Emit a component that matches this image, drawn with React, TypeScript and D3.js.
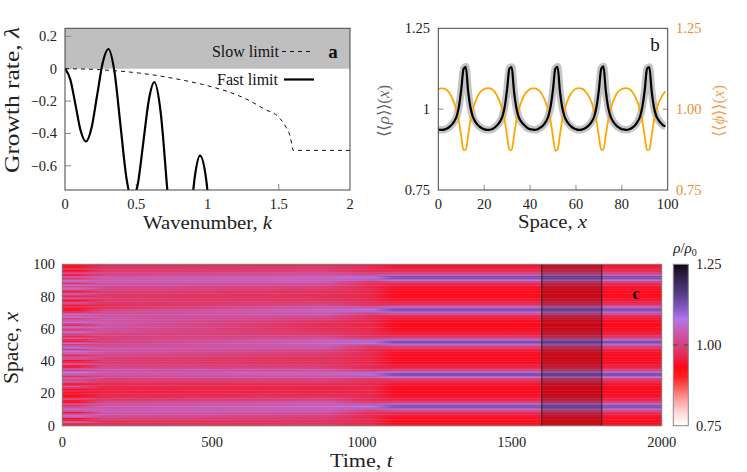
import React from 'react';
import * as d3 from 'd3';

// ---------- Panel a data ----------
const fastK = [0, 0.037, 0.074, 0.110, 0.147, 0.186, 0.2255, 0.265, 0.304, 0.3465, 0.389, 0.4315, 0.474, 0.512, 0.5505, 0.589, 0.627, 0.672, 0.7165, 0.761, 0.806, 0.841, 0.8765, 0.912, 0.947, 0.99, 1.03, 1.08];
const fastLambda = [0, -0.066, -0.225, -0.384, -0.45, -0.366, -0.164, 0.038, 0.122, -0.015, -0.347, -0.678, -0.815, -0.708, -0.449, -0.19, -0.083, -0.274, -0.734, -1.194, -1.385, -1.261, -0.962, -0.662, -0.538, -0.68, -1.05, -1.5];
const slowK = [0, 0.2, 0.4, 0.6, 0.8, 1.0, 1.2, 1.3, 1.4, 1.5, 1.55, 1.58, 1.59, 1.6, 2.0];
const slowLambda = [0, -0.004, -0.016, -0.036, -0.066, -0.105, -0.16, -0.2, -0.25, -0.3, -0.36, -0.42, -0.46, -0.505, -0.505];
const ticksKa = [0, 0.5, 1, 1.5, 2];
const ticksLa = [0.2, 0, -0.2, -0.4, -0.6];

// ---------- Panel b data (x = 0..99) ----------
const rhoMean = [
  0.937, 0.936, 0.936, 0.938, 0.941, 0.946, 0.953, 0.963, 0.978, 1.008,
  1.060, 1.124, 1.131, 1.056, 1.006, 0.978, 0.963, 0.953, 0.946, 0.941,
  0.938, 0.936, 0.936, 0.937, 0.940, 0.946, 0.953, 0.963, 0.979, 1.009,
  1.062, 1.126, 1.130, 1.055, 1.005, 0.977, 0.963, 0.954, 0.947, 0.941,
  0.938, 0.937, 0.936, 0.937, 0.941, 0.945, 0.952, 0.963, 0.979, 1.010,
  1.061, 1.125, 1.131, 1.057, 1.006, 0.978, 0.963, 0.953, 0.946, 0.941,
  0.938, 0.936, 0.936, 0.938, 0.941, 0.946, 0.953, 0.963, 0.978, 1.008,
  1.059, 1.124, 1.132, 1.058, 1.007, 0.979, 0.964, 0.954, 0.947, 0.942,
  0.938, 0.937, 0.936, 0.937, 0.940, 0.945, 0.952, 0.963, 0.978, 1.009,
  1.060, 1.125, 1.130, 1.056, 1.006, 0.979, 0.966, 0.957, 0.950, 0.947,
];
const phiMean = [
  1.062, 1.064, 1.064, 1.062, 1.057, 1.048, 1.035, 1.018, 0.995, 0.962,
  0.915, 0.873, 0.875, 0.918, 0.965, 0.998, 1.020, 1.037, 1.050, 1.058,
  1.062, 1.064, 1.065, 1.063, 1.058, 1.049, 1.036, 1.019, 0.996, 0.963,
  0.916, 0.874, 0.874, 0.917, 0.964, 0.997, 1.019, 1.036, 1.049, 1.057,
  1.062, 1.064, 1.064, 1.062, 1.057, 1.048, 1.035, 1.018, 0.994, 0.961,
  0.914, 0.872, 0.875, 0.919, 0.966, 0.998, 1.020, 1.037, 1.050, 1.058,
  1.063, 1.065, 1.064, 1.062, 1.056, 1.047, 1.034, 1.017, 0.994, 0.962,
  0.916, 0.874, 0.876, 0.918, 0.964, 0.997, 1.020, 1.037, 1.050, 1.058,
  1.062, 1.064, 1.065, 1.063, 1.058, 1.049, 1.036, 1.018, 0.995, 0.963,
  0.915, 0.873, 0.875, 0.917, 0.963, 0.996, 1.018, 1.034, 1.046, 1.055,
];
const ticksXb = [0, 20, 40, 60, 80, 100];
const ticksYbLeft = ['0.75', '1', '1.25'];
const ticksYbRight = ['0.75', '1.00', '1.25'];
const valsYb = [0.75, 1, 1.25];

// ---------- Panel c data (rows x = 0..99) ----------
const heatNoise = [
  0.94, 0.97, 1.05, 0.96, 0.93, 1.04, 1.07, 0.99, 0.95, 1.03,
  1.06, 1.02, 0.97, 1.04, 0.95, 0.93, 1.02, 0.96, 0.93, 0.95,
  0.92, 0.97, 0.94, 0.98, 1.03, 0.95, 0.96, 1.04, 0.99, 1.06,
  0.97, 1.03, 1.05, 1.08, 0.99, 1.02, 0.96, 0.95, 1.03, 0.97,
  0.94, 1.01, 1.04, 0.96, 1.02, 1.05, 1.07, 0.98, 1.09, 1.04,
  0.99, 1.05, 0.95, 0.97, 1.03, 0.96, 0.99, 1.04, 1.06, 0.98,
  1.03, 1.05, 0.97, 1.02, 1.06, 1.04, 0.99, 1.07, 1.03, 1.05,
  0.98, 0.95, 0.93, 0.97, 0.95, 0.99, 1.03, 0.94, 0.98, 1.02,
  0.96, 1.04, 0.99, 0.95, 1.03, 1.06, 1.01, 1.05, 0.97, 1.06,
  1.04, 0.98, 1.03, 0.95, 1.02, 0.96, 0.94, 0.98, 0.93, 0.95,
];
const heatEarly = [
  0.968, 0.970, 0.975, 0.985, 0.998, 1.012, 1.025, 1.033, 1.037, 1.040,
  1.040, 1.038, 1.034, 1.025, 1.012, 0.995, 0.982, 0.972, 0.966, 0.962,
  0.960, 0.958, 0.958, 0.960, 0.962, 0.966, 0.972, 0.980, 0.990, 1.002,
  1.015, 1.026, 1.032, 1.034, 1.032, 1.025, 1.012, 1.000, 0.992, 0.988,
  0.988, 0.992, 0.998, 1.006, 1.015, 1.024, 1.030, 1.032, 1.030, 1.022,
  1.012, 1.004, 0.998, 0.995, 0.995, 0.998, 1.003, 1.010, 1.017, 1.023,
  1.028, 1.032, 1.035, 1.036, 1.036, 1.035, 1.033, 1.032, 1.030, 1.026,
  1.018, 1.005, 0.990, 0.978, 0.972, 0.975, 0.982, 0.986, 0.988, 0.988,
  0.986, 0.985, 0.987, 0.992, 1.000, 1.010, 1.020, 1.030, 1.036, 1.040,
  1.040, 1.036, 1.028, 1.016, 1.004, 0.994, 0.986, 0.980, 0.976, 0.975,
];
const heatMid = [
  0.978, 0.977, 0.978, 0.981, 0.986, 0.993, 1.003, 1.015, 1.028, 1.040,
  1.048, 1.052, 1.052, 1.046, 1.034, 1.018, 1.002, 0.988, 0.976, 0.968,
  0.963, 0.961, 0.960, 0.961, 0.964, 0.969, 0.976, 0.986, 0.998, 1.015,
  1.032, 1.046, 1.048, 1.040, 1.026, 1.010, 0.996, 0.986, 0.980, 0.977,
  0.976, 0.976, 0.977, 0.980, 0.985, 0.993, 1.004, 1.018, 1.032, 1.043,
  1.049, 1.051, 1.048, 1.038, 1.022, 1.006, 0.993, 0.983, 0.977, 0.974,
  0.972, 0.971, 0.972, 0.974, 0.979, 0.987, 0.998, 1.012, 1.027, 1.040,
  1.047, 1.050, 1.047, 1.036, 1.020, 1.004, 0.991, 0.982, 0.977, 0.975,
  0.974, 0.974, 0.975, 0.978, 0.983, 0.991, 1.002, 1.016, 1.030, 1.042,
  1.049, 1.051, 1.047, 1.036, 1.020, 1.004, 0.992, 0.984, 0.980, 0.978,
];
const heatTrans = [
  0.964, 0.963, 0.962, 0.962, 0.963, 0.964, 0.966, 0.970, 0.977, 0.992,
  1.030, 1.088, 1.090, 1.032, 0.993, 0.978, 0.970, 0.966, 0.964, 0.963,
  0.963, 0.962, 0.962, 0.962, 0.963, 0.965, 0.967, 0.971, 0.978, 0.993,
  1.032, 1.090, 1.089, 1.030, 0.992, 0.977, 0.969, 0.965, 0.963, 0.962,
  0.962, 0.962, 0.961, 0.962, 0.963, 0.964, 0.966, 0.970, 0.977, 0.991,
  1.029, 1.087, 1.091, 1.033, 0.994, 0.978, 0.970, 0.966, 0.964, 0.963,
  0.963, 0.962, 0.962, 0.963, 0.963, 0.965, 0.967, 0.971, 0.978, 0.992,
  1.031, 1.089, 1.088, 1.030, 0.992, 0.977, 0.970, 0.966, 0.964, 0.963,
  0.963, 0.962, 0.962, 0.962, 0.963, 0.964, 0.966, 0.970, 0.977, 0.992,
  1.030, 1.090, 1.089, 1.031, 0.993, 0.978, 0.970, 0.966, 0.964, 0.964,
];
const heatStopTimes = [0, 50, 140, 880, 1035, 1110, 2000];
const heatProfiles = [heatNoise, heatNoise, heatEarly, heatMid, heatTrans, rhoMean, rhoMean];
const windowStart = 1600;
const windowEnd = 1800;
const ticksTc = [0, 500, 1000, 1500, 2000];
const ticksXc = [0, 20, 40, 60, 80, 100];
const cbarTicks = ['0.75', '1.00', '1.25'];
const cbarVals = [0.75, 1.0, 1.25];

// colormap
const cmapValues = [0.75, 0.79, 0.83, 0.87, 0.90, 0.93, 0.945, 0.96, 0.975, 0.99, 1.02, 1.05, 1.08, 1.11, 1.14, 1.18, 1.22, 1.25];
const cmapColors = ['#ffffff', '#ffd8d8', '#ffa0a0', '#ff5858', '#ff2020', '#ff0814', '#f81028', '#ea2448', '#e2305a', '#da3c72', '#d04c98', '#c660ba', '#b474f0', '#8a5cc8', '#6a48a0', '#46306e', '#2a1a3e', '#0c0810'];

const FONT = '"Liberation Serif", "Times New Roman", serif';
const TICK = '#888';
const FRAME = '#444';

export default function App() {
  // ---------- scales ----------
  const xa = d3.scaleLinear().domain([0, 2]).range([65, 350]);
  const ya = d3.scaleLinear().domain([-0.75, 0.25]).range([190, 28.3]);
  const xb = d3.scaleLinear().domain([0, 100]).range([438.3, 667.7]);
  const yb = d3.scaleLinear().domain([0.75, 1.25]).range([190, 28.3]);
  const xc = d3.scaleLinear().domain([0, 2000]).range([62.3, 661.7]);
  const yc = d3.scaleLinear().domain([0, 100]).range([425.7, 264.3]);
  const ycb = d3.scaleLinear().domain([0.75, 1.25]).range([425.7, 264.3]);
  const cmap = d3.scaleLinear<string>().domain(cmapValues).range(cmapColors).interpolate(d3.interpolateRgb).clamp(true);

  const fastLine = d3.line<number>().x((_, i) => xa(fastK[i])).y((d) => ya(d)).curve(d3.curveMonotoneX)(fastLambda) || '';
  const slowLine = d3.line<number>().x((_, i) => xa(slowK[i])).y((d) => ya(d)).curve(d3.curveMonotoneX)(slowLambda) || '';
  const rhoLine = d3.line<number>().x((_, i) => xb(i)).y((d) => yb(d)).curve(d3.curveMonotoneX)(rhoMean) || '';
  const phiLine = d3.line<number>().x((_, i) => xb(i)).y((d) => yb(d)).curve(d3.curveMonotoneX)(phiMean) || '';

  const rows = d3.range(100);
  const cbStops = d3.range(0, 51).map((j) => 0.75 + (j / 50) * 0.5);

  return (
    <svg width={747} height={472} style={{ position: 'absolute', left: 0, top: 0, background: '#fff' }} fontFamily={FONT}>
      <defs>
        <clipPath id="clipA">
          <rect x={xa(0)} y={ya(0.25)} width={xa(2) - xa(0)} height={ya(-0.75) - ya(0.25)} />
        </clipPath>
        {rows.map((i) => (
          <linearGradient key={i} id={`hrow${i}`} gradientUnits="userSpaceOnUse" x1={xc(0)} x2={xc(2000)} y1={0} y2={0}>
            {heatStopTimes.map((t, j) => (
              <stop key={j} offset={t / 2000} stopColor={cmap(heatProfiles[j][i])} />
            ))}
          </linearGradient>
        ))}
        <linearGradient id="cbar" x1={0} y1={1} x2={0} y2={0}>
          {cbStops.map((v, j) => (
            <stop key={j} offset={(v - 0.75) / 0.5} stopColor={cmap(v)} />
          ))}
        </linearGradient>
      </defs>

      {/* ================= Panel a ================= */}
      <rect x={xa(0)} y={ya(0.25)} width={xa(2) - xa(0)} height={ya(0) - ya(0.25)} fill="#bfbfbf" />
      {ticksLa.map((v) => (
        <line key={v} x1={xa(0)} x2={xa(0) + 6} y1={ya(v)} y2={ya(v)} stroke={TICK} />
      ))}
      {ticksKa.slice(1, -1).map((v) => (
        <line key={v} x1={xa(v)} x2={xa(v)} y1={ya(-0.75)} y2={ya(-0.75) - 6} stroke={TICK} />
      ))}
      <g clipPath="url(#clipA)">
        <path d={slowLine} fill="none" stroke="#111" strokeWidth={1} strokeDasharray="4,4" />
        <path d={fastLine} fill="none" stroke="#000" strokeWidth={2.2} />
      </g>
      <rect x={xa(0)} y={ya(0.25)} width={xa(2) - xa(0)} height={ya(-0.75) - ya(0.25)} fill="none" stroke={FRAME} strokeWidth={1} />
      {/* legend */}
      <text x={279} y={57} fontSize={16} textAnchor="end" fill="#111">Slow limit</text>
      <line x1={282} x2={314} y1={51.5} y2={51.5} stroke="#111" strokeWidth={1} strokeDasharray="4,4" />
      <text x={278} y={85} fontSize={16} textAnchor="end" fill="#111">Fast limit</text>
      <line x1={284} x2={314} y1={79.5} y2={79.5} stroke="#000" strokeWidth={2.2} />
      <text x={333} y={58} fontSize={19} fontWeight="bold" textAnchor="middle" fill="#111">a</text>
      {/* ticks labels */}
      {ticksLa.map((v) => (
        <text key={v} x={57} y={ya(v) + 5} fontSize={14.5} textAnchor="end" fill="#222">
          {v === 0 ? '0' : (v < 0 ? '\u2212' : '') + Math.abs(v).toString()}
        </text>
      ))}
      {ticksKa.map((v) => (
        <text key={v} x={xa(v)} y={209} fontSize={14.5} textAnchor="middle" fill="#222">{String(v)}</text>
      ))}
      <text x={207.5} y={229} fontSize={19} textAnchor="middle" fill="#222" textLength={129} lengthAdjust="spacingAndGlyphs">
        Wavenumber, <tspan fontStyle="italic">k</tspan>
      </text>
      <text transform="translate(19,100) rotate(-90)" fontSize={20} textAnchor="middle" fill="#222" textLength={146} lengthAdjust="spacingAndGlyphs">
        Growth rate, <tspan fontStyle="italic">λ</tspan>
      </text>

      {/* ================= Panel b ================= */}
      {valsYb.slice(1, 2).map((v) => (
        <g key={v}>
          <line x1={xb(0)} x2={xb(0) + 5} y1={yb(v)} y2={yb(v)} stroke={TICK} />
          <line x1={xb(100)} x2={xb(100) - 5} y1={yb(v)} y2={yb(v)} stroke={TICK} />
        </g>
      ))}
      {ticksXb.slice(1, -1).map((v) => (
        <line key={v} x1={xb(v)} x2={xb(v)} y1={yb(0.75)} y2={yb(0.75) - 5} stroke={TICK} />
      ))}
      <path d={rhoLine} fill="none" stroke="#c4c4c4" strokeWidth={7.5} strokeLinejoin="round" />
      <path d={phiLine} fill="none" stroke="#ffa500" strokeWidth={1.8} />
      <path d={rhoLine} fill="none" stroke="#000" strokeWidth={2.2} />
      <rect x={xb(0)} y={yb(1.25)} width={xb(100) - xb(0)} height={yb(0.75) - yb(1.25)} fill="none" stroke={FRAME} strokeWidth={1} />
      <text x={655} y={51} fontSize={19} textAnchor="middle" fill="#111">b</text>
      {valsYb.map((v, i) => (
        <text key={'l' + v} x={430} y={yb(v) + 5} fontSize={14.5} textAnchor="end" fill="#222">{ticksYbLeft[i]}</text>
      ))}
      {valsYb.map((v, i) => (
        <text key={'r' + v} x={676} y={yb(v) + 5} fontSize={14.5} textAnchor="start" fill="#f08c30">{ticksYbRight[i]}</text>
      ))}
      {ticksXb.map((v) => (
        <text key={v} x={xb(v)} y={209} fontSize={14.5} textAnchor="middle" fill="#222">{String(v)}</text>
      ))}
      <text x={552.5} y={228} fontSize={19} textAnchor="middle" fill="#222" textLength={69} lengthAdjust="spacingAndGlyphs">
        Space, <tspan fontStyle="italic">x</tspan>
      </text>
      <text transform="translate(389,111) rotate(-90)" fontSize={16} textAnchor="middle" fill="#666" textLength={52} lengthAdjust="spacingAndGlyphs">
        ⟨⟨<tspan fontStyle="italic">ρ</tspan>⟩⟩(<tspan fontStyle="italic">x</tspan>)
      </text>
      <text transform="translate(724,111) rotate(-90)" fontSize={16} textAnchor="middle" fill="#f5a050" textLength={52} lengthAdjust="spacingAndGlyphs">
        ⟨⟨<tspan fontStyle="italic">ϕ</tspan>⟩⟩(<tspan fontStyle="italic">x</tspan>)
      </text>

      {/* ================= Panel c ================= */}
      {rows.map((i) => (
        <rect key={i} x={xc(0)} y={yc(i + 1)} width={xc(2000) - xc(0)} height={yc(i) - yc(i + 1) + 0.4} fill={`url(#hrow${i})`} />
      ))}
      <rect x={xc(windowStart)} y={yc(100)} width={xc(windowEnd) - xc(windowStart)} height={yc(0) - yc(100)} fill="#000" fillOpacity={0.2} />
      <line x1={xc(windowStart)} x2={xc(windowStart)} y1={yc(0)} y2={yc(100)} stroke="#222" strokeWidth={1} />
      <line x1={xc(windowEnd)} x2={xc(windowEnd)} y1={yc(0)} y2={yc(100)} stroke="#222" strokeWidth={1} />
      <rect x={xc(0)} y={yc(100)} width={xc(2000) - xc(0)} height={yc(0) - yc(100)} fill="none" stroke="#777" strokeWidth={1} />
      <text x={636} y={299} fontSize={16} fontWeight="bold" textAnchor="middle" fill="#111">c</text>
      {ticksXc.map((v) => (
        <text key={v} x={55} y={yc(v) + 5} fontSize={14.5} textAnchor="end" fill="#222">{String(v)}</text>
      ))}
      {ticksTc.map((v) => (
        <text key={v} x={xc(v)} y={446.5} fontSize={14.5} textAnchor="middle" fill="#222">{String(v)}</text>
      ))}
      <text x={361.5} y={467} fontSize={19} textAnchor="middle" fill="#222" textLength={63} lengthAdjust="spacingAndGlyphs">
        Time, <tspan fontStyle="italic">t</tspan>
      </text>
      <text transform="translate(18,348) rotate(-90)" fontSize={20} textAnchor="middle" fill="#222" textLength={72} lengthAdjust="spacingAndGlyphs">
        Space, <tspan fontStyle="italic">x</tspan>
      </text>

      {/* colorbar */}
      <rect x={673.3} y={ycb(1.25)} width={15} height={ycb(0.75) - ycb(1.25)} fill="url(#cbar)" stroke="#888" strokeWidth={1} />
      <line x1={673.3} x2={677.5} y1={ycb(1)} y2={ycb(1)} stroke="#444" strokeWidth={1} />
      <line x1={684} x2={688.3} y1={ycb(1)} y2={ycb(1)} stroke="#444" strokeWidth={1} />
      {cbarVals.map((v, i) => (
        <text key={v} x={696} y={ycb(v) + 5} fontSize={14.5} textAnchor="start" fill="#222">{cbarTicks[i]}</text>
      ))}
      <text x={685} y={253} fontSize={15} textAnchor="middle" fill="#222">
        <tspan fontStyle="italic">ρ</tspan>/<tspan fontStyle="italic">ρ</tspan><tspan fontSize={10} dy={3}>0</tspan>
      </text>
    </svg>
  );
}
